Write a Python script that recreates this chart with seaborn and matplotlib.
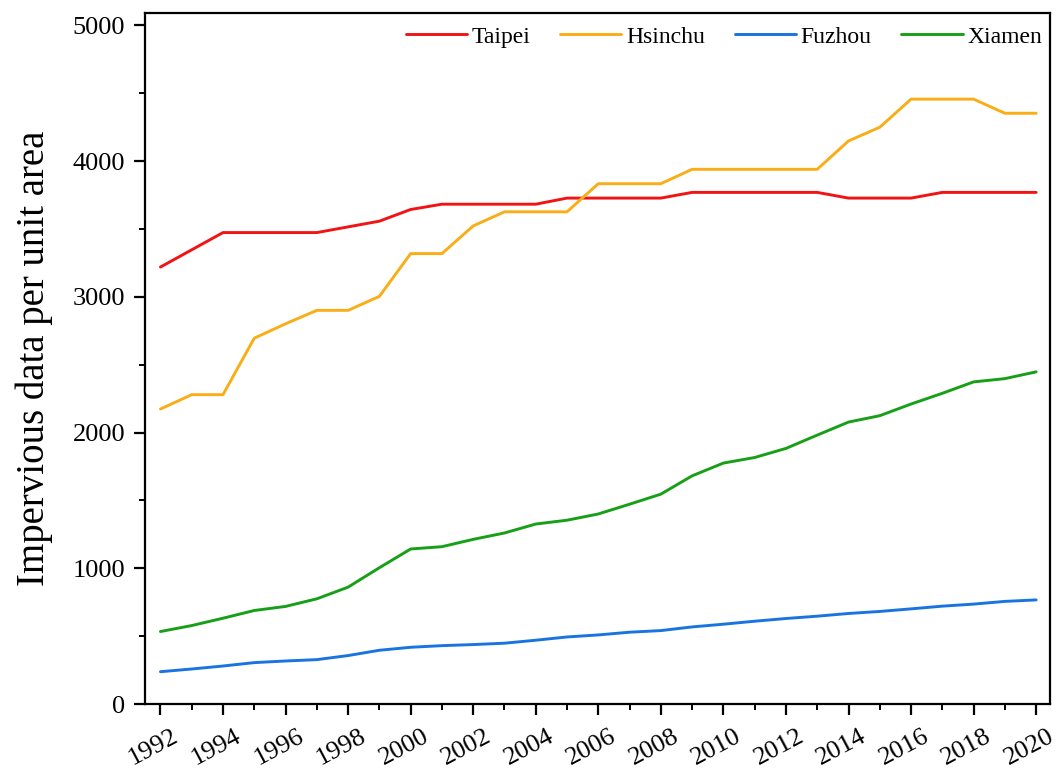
import numpy as np
import pandas as pd
import matplotlib
matplotlib.use("Agg")
import matplotlib.pyplot as plt
from matplotlib.ticker import MultipleLocator
from matplotlib.transforms import ScaledTranslation
import seaborn as sns

years = list(range(1992, 2021))
taipei = [3219, 3346, 3473, 3473, 3473, 3473, 3515, 3557, 3643, 3682, 3682, 3682, 3682,
          3727, 3727, 3727, 3727, 3769, 3769, 3769, 3769, 3769, 3727, 3727, 3727, 3769,
          3769, 3769, 3769]
hsinchu = [2173, 2279, 2279, 2695, 2801, 2900, 2900, 3003, 3318, 3318, 3522, 3626, 3626,
           3626, 3833, 3833, 3833, 3939, 3939, 3939, 3939, 3939, 4148, 4249, 4456, 4456,
           4456, 4352, 4352]
fuzhou = [238, 258, 280, 305, 317, 327, 357, 396, 418, 430, 438, 448, 470, 494, 509, 529,
          541, 568, 588, 610, 630, 647, 667, 682, 701, 721, 736, 756, 767]
xiamen = [534, 578, 632, 689, 719, 775, 861, 1004, 1142, 1159, 1213, 1260, 1326, 1354,
          1400, 1472, 1546, 1681, 1775, 1816, 1883, 1981, 2077, 2124, 2210, 2289, 2373,
          2397, 2447]
cities = ["Taipei", "Hsinchu", "Fuzhou", "Xiamen"]
colors = ["#f01414", "#f9ad17", "#1a74e0", "#17a017"]

df = pd.concat([
    pd.DataFrame({"Year": years, "Value": vals, "City": name})
    for name, vals in zip(cities, [taipei, hsinchu, fuzhou, xiamen])
])

sns.set_style("white")
plt.rcParams["font.family"] = ["Liberation Serif", "DejaVu Serif"]
plt.rcParams["text.color"] = "black"
plt.rcParams["axes.labelcolor"] = "black"
plt.rcParams["xtick.color"] = "black"
plt.rcParams["ytick.color"] = "black"

fig = plt.figure(figsize=(10.57, 7.69), dpi=100)
ax = fig.add_axes([0.137, 0.0845, 0.856, 0.8985])
sns.lineplot(data=df, x="Year", y="Value", hue="City", hue_order=cities,
             palette=colors, linewidth=2.1, ax=ax)

ax.set_xlim(1991.5, 2020.43)
ax.set_ylim(0, 5090)
ax.xaxis.set_major_locator(MultipleLocator(2))
ax.xaxis.set_minor_locator(MultipleLocator(1))
ax.yaxis.set_major_locator(MultipleLocator(1000))
ax.yaxis.set_minor_locator(MultipleLocator(500))
ax.tick_params(axis="both", which="major", direction="out", length=8, width=1.6,
               labelsize=19, labelcolor="black", color="black",
               bottom=True, left=True, top=False, right=False)
ax.tick_params(axis="both", which="minor", direction="out", length=4, width=1.4,
               color="black", bottom=True, left=True, top=False, right=False)
ax.tick_params(axis="y", which="major", pad=6)
ax.tick_params(axis="x", which="major", pad=27, labelsize=19)

offset = ScaledTranslation(-4 / 100, 0, fig.dpi_scale_trans)
for tick in ax.xaxis.get_major_ticks():
    lab = tick.label1
    lab.set_rotation(28)
    lab.set_ha("center")
    lab.set_va("baseline")
    lab.set_rotation_mode("anchor")
    lab.set_transform(lab.get_transform() + offset)

for s in ax.spines.values():
    s.set_visible(True)
    s.set_color("black")
    s.set_linewidth(1.6)

ax.set_xlabel("")
ax.set_ylabel("Impervious data per unit area", fontsize=28, labelpad=14, color="black")
leg = ax.legend(loc="upper right", bbox_to_anchor=(1.006, 1.0), ncol=4, frameon=False,
                fontsize=17, handlelength=2.6, handletextpad=0.2, columnspacing=1.25,
                borderaxespad=0.15)
for t in leg.get_texts():
    t.set_color("black")

fig.savefig("out.png", dpi=100)
